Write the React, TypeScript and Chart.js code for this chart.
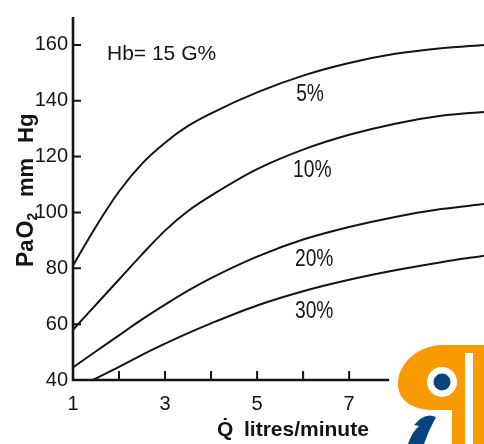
import { useEffect, useRef } from 'react';
import { Chart, registerables } from 'chart.js';

Chart.register(...registerables);

// Cardiac output (litres/minute) and arterial PO2 (mm Hg) for each shunt fraction
const flowQ = [1, 1.5, 2, 2.5, 3, 3.5, 4, 5, 6, 7, 8, 9, 9.93];
const pao2Shunt5 = [81, 95, 107.5, 117.5, 125, 131, 135.5, 143, 149, 153.5, 156.8, 158.8, 160];
const pao2Shunt10 = [58, 67, 76, 85, 93.5, 100.5, 106, 115.5, 122.5, 127.8, 131.8, 134.6, 136];
const pao2Shunt20 = [44.5, 50.3, 56, 61.7, 67, 72, 76.5, 84.2, 90.3, 94.8, 98.4, 101.2, 103];
const flowQ30 = [1.43, 2, 2.5, 3, 3.5, 4, 5, 6, 7, 8, 9, 9.93];
const pao2Shunt30 = [40, 44.7, 49, 53, 56.8, 60.3, 66.7, 71.8, 75.9, 79.3, 82.2, 84.5];
const shuntLabels = ['5%', '10%', '20%', '30%'];
const yTickValues = [40, 60, 80, 100, 120, 140, 160];
const xTickLabelValues = [1, 3, 5, 7];
const xTickMarkValues = [2, 3, 4, 5, 6, 7];

const INK = '#141414';
const FONT = "'Liberation Sans', Arial, sans-serif";

const decorPlugin = {
  id: 'decor',
  afterDraw(chart: any) {
    const ctx: CanvasRenderingContext2D = chart.ctx;
    const xs = chart.scales.x;
    const ys = chart.scales.y;
    const x0 = xs.getPixelForValue(1);
    const y0 = ys.getPixelForValue(40);
    const yTop = ys.getPixelForValue(170);
    const xEnd = xs.getPixelForValue(7.87);
    ctx.save();
    // axes
    ctx.strokeStyle = INK;
    ctx.lineWidth = 2.6;
    ctx.beginPath();
    ctx.moveTo(x0, yTop);
    ctx.lineTo(x0, y0);
    ctx.lineTo(xEnd, y0);
    ctx.stroke();
    ctx.lineWidth = 2;
    ctx.beginPath();
    yTickValues.forEach((v) => {
      if (v === 40) return;
      const py = ys.getPixelForValue(v);
      ctx.moveTo(x0, py);
      ctx.lineTo(x0 + 8, py);
    });
    xTickMarkValues.forEach((v) => {
      const px = xs.getPixelForValue(v);
      ctx.moveTo(px, y0);
      ctx.lineTo(px, y0 - 9);
    });
    ctx.stroke();

    ctx.fillStyle = INK;
    // Hb annotation
    ctx.font = `21px ${FONT}`;
    ctx.textAlign = 'left';
    ctx.textBaseline = 'alphabetic';
    ctx.fillText('Hb= 15 G%', 107, 60);

    // curve labels
    const anchorsQ = [6.15, 6.2, 6.24, 6.24];
    const anchorsP = [142.5, 115.4, 83.4, 64.9];
    shuntLabels.forEach((t, i) => {
      const px = xs.getPixelForValue(anchorsQ[i]);
      const py = ys.getPixelForValue(anchorsP[i]);
      ctx.save();
      ctx.translate(px, py);
      ctx.scale(0.8, 1);
      ctx.font = `24px ${FONT}`;
      ctx.textAlign = 'center';
      ctx.textBaseline = 'middle';
      ctx.fillText(t, 0, 1);
      ctx.restore();
    });

    // x-axis title
    ctx.font = `bold 21px ${FONT}`;
    ctx.textAlign = 'left';
    ctx.textBaseline = 'alphabetic';
    ctx.fillText('Q\u0307', 217, 436);
    ctx.fillText('litres/minute', 244, 436);

    // y-axis title (rotated)
    ctx.save();
    ctx.translate(33, 267);
    ctx.rotate(-Math.PI / 2);
    ctx.textAlign = 'left';
    ctx.textBaseline = 'alphabetic';
    let lx = 0;
    ctx.font = `bold 23px ${FONT}`;
    ctx.fillText('P', lx, 0);
    lx += ctx.measureText('P').width;
    ctx.font = `bold 22px ${FONT}`;
    ctx.fillText('a', lx, 0);
    lx += ctx.measureText('a').width + 1;
    ctx.font = `bold 23px ${FONT}`;
    ctx.fillText('O', lx, 0);
    lx += ctx.measureText('O').width;
    ctx.font = `bold 14px ${FONT}`;
    ctx.fillText('2', lx, 4);
    ctx.font = `bold 22px ${FONT}`;
    ctx.fillText('mm', 70, 0);
    ctx.fillText('Hg', 124, 0);
    ctx.restore();

    // logo (bottom right)
    const orange = '#F79B00';
    const blue = '#06457F';
    ctx.fillStyle = orange;
    ctx.beginPath();
    ctx.moveTo(484, 345);
    ctx.lineTo(440, 345);
    ctx.bezierCurveTo(415, 347, 398, 365, 398, 384);
    ctx.bezierCurveTo(398, 400, 412, 409, 430, 410);
    ctx.lineTo(452, 410);
    ctx.lineTo(452, 444);
    ctx.lineTo(484, 444);
    ctx.closePath();
    ctx.fill();
    ctx.fillStyle = '#ffffff';
    ctx.fillRect(465, 353, 8, 91);
    ctx.beginPath();
    ctx.arc(442, 382, 15, 0, Math.PI * 2);
    ctx.fill();
    ctx.fillStyle = blue;
    ctx.beginPath();
    ctx.arc(442, 382, 8.5, 0, Math.PI * 2);
    ctx.fill();
    ctx.beginPath();
    ctx.moveTo(420, 419);
    ctx.quadraticCurveTo(428, 413, 436, 417);
    ctx.lineTo(429, 431);
    ctx.lineTo(424, 444);
    ctx.lineTo(408, 444);
    ctx.quadraticCurveTo(412, 432, 419, 426);
    ctx.lineTo(414, 425);
    ctx.closePath();
    ctx.fill();
    ctx.restore();
  },
};

function series(xs: number[], ys: number[]) {
  return xs.map((x, i) => ({ x, y: ys[i] }));
}

export default function App() {
  const ref = useRef<HTMLCanvasElement | null>(null);
  useEffect(() => {
    document.body.style.margin = '0';
    document.body.style.background = '#ffffff';
    const canvas = ref.current;
    if (!canvas) return;
    const line = (label: string, data: any) => ({
      label,
      data,
      borderColor: INK,
      borderWidth: 2,
      pointRadius: 0,
      fill: false,
      cubicInterpolationMode: 'monotone' as const,
    });
    const chart = new Chart(canvas, {
      type: 'line',
      data: {
        datasets: [
          line(shuntLabels[0], series(flowQ, pao2Shunt5)),
          line(shuntLabels[1], series(flowQ, pao2Shunt10)),
          line(shuntLabels[2], series(flowQ, pao2Shunt20)),
          line(shuntLabels[3], series(flowQ30, pao2Shunt30)),
        ],
      },
      options: {
        animation: false,
        responsive: false,
        layout: { padding: { top: 15, left: 0, right: 0, bottom: 0 } },
        plugins: { legend: { display: false }, tooltip: { enabled: false } },
        scales: {
          x: {
            type: 'linear',
            min: 1,
            max: 9.93,
            grid: { display: false, drawTicks: false },
            border: { display: false },
            afterFit: (s: any) => {
              s.height = 64;
            },
            afterBuildTicks: (s: any) => {
              s.ticks = xTickLabelValues.map((v) => ({ value: v }));
            },
            ticks: {
              padding: 12,
              color: INK,
              font: { family: FONT, size: 20 },
              maxRotation: 0,
              autoSkip: false,
            },
          },
          y: {
            type: 'linear',
            min: 40,
            max: 170,
            grid: { display: false, drawTicks: false },
            border: { display: false },
            afterFit: (s: any) => {
              s.width = 73;
            },
            afterBuildTicks: (s: any) => {
              s.ticks = yTickValues.map((v) => ({ value: v }));
            },
            ticks: {
              padding: 5,
              color: INK,
              font: { family: FONT, size: 20 },
              autoSkip: false,
            },
          },
        },
      },
      plugins: [decorPlugin],
    });
    return () => chart.destroy();
  }, []);
  return (
    <div style={{ width: 484, height: 444 }}>
      <canvas ref={ref} width={484} height={444} style={{ display: 'block' }} />
    </div>
  );
}
